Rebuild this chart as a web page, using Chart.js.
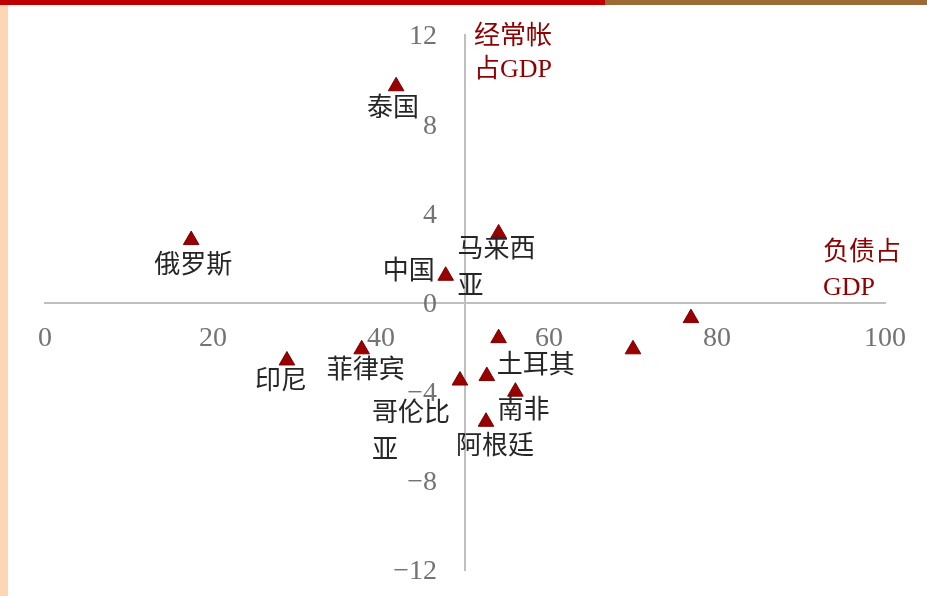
<!DOCTYPE html>
<html><head><meta charset="utf-8">
<script src="https://cdn.jsdelivr.net/npm/chart.js@4.4.1/dist/chart.umd.min.js"></script>
<style>
html,body{margin:0;padding:0;background:#fff;}
#wrap{position:relative;width:927px;height:596px;overflow:hidden;background:#fff;}
#topRed{position:absolute;left:0;top:0;width:605px;height:5px;background:#C00000;}
#topBrown{position:absolute;left:605px;top:0;width:322px;height:5px;background:#9E6A33;}
#leftStrip{position:absolute;left:0;top:5px;width:8px;height:591px;background:#FDD6B5;}
canvas{position:absolute;left:0;top:0;}
</style></head><body>
<div id="wrap">
<canvas id="c" width="927" height="596"></canvas>
<div id="topRed"></div><div id="topBrown"></div><div id="leftStrip"></div>
</div>
<script>
// ---- data ----
const countries = ['泰国','俄罗斯','马来西亚','中国','','','印尼','菲律宾','','哥伦比亚','土耳其','南非','阿根廷'];
const debtToGDP = [41.8, 17.4, 54.0, 47.7, 76.9, 70.0, 28.8, 37.7, 54.0, 49.4, 52.6, 56.0, 52.5];
const currentAccountToGDP = [9.7, 2.8, 3.1, 1.2, -0.7, -2.1, -2.6, -2.1, -1.6, -3.5, -3.3, -4.0, -5.35];
const xTicks = [0, 20, 40, 60, 80, 100];
const yTicks = [-12, -8, -4, 0, 4, 8, 12];
const yTitleLines = ['经常帐', '占GDP'];
const xTitleLines = ['负债占', 'GDP'];

// ---- label placement (style, not data) ----
const labelText = {'马来西亚': ['马来西', '亚'], '哥伦比亚': ['哥伦比', '亚']};
const labelPlace = [
  [-3, 20, 'center'], [2, 23, 'center'], [-41, 14, 'left'], [-11, -7, 'right'],
  null, null, [-6, 19, 'center'], [4, 19, 'center'], null,
  [-88, 31, 'left'], [10, -13, 'left'], [-18, 17, 'left'], [9, 22, 'center']
];
const textShift = 3;

const points = debtToGDP.map((x, i) => ({x: x, y: currentAccountToGDP[i]}));
const CJK = '"Liberation Serif", "Noto Sans CJK SC", serif';
const darkRed = '#8F0000';
const fmt = v => String(v).replace('-', '\u2212');

const labelPlugin = {
  id: 'labels',
  afterDatasetsDraw(chart) {
    const ctx = chart.ctx;
    const meta = chart.getDatasetMeta(0);
    ctx.save();
    ctx.font = '26px ' + CJK;
    ctx.fillStyle = '#262626';
    ctx.textBaseline = 'middle';
    countries.forEach((name, i) => {
      if (!name || !labelPlace[i]) return;
      const el = meta.data[i];
      const [dx, dy, align] = labelPlace[i];
      const lines = labelText[name] || [name];
      ctx.textAlign = align;
      lines.forEach((ln, k) => ctx.fillText(ln, el.x + dx, el.y + dy + textShift + k * 37));
    });
    // axis titles
    const xs = chart.scales.x, ys = chart.scales.y;
    ctx.fillStyle = darkRed;
    ctx.textAlign = 'left';
    yTitleLines.forEach((ln, k) => ctx.fillText(ln, xs.getPixelForValue(50) + 9, ys.getPixelForValue(12) - 1 + textShift + k * 33));
    xTitleLines.forEach((ln, k) => ctx.fillText(ln, xs.getPixelForValue(100) - 62, ys.getPixelForValue(0) - 52 + textShift + k * 35));
    ctx.restore();
  }
};

new Chart(document.getElementById('c'), {
  type: 'scatter',
  data: {
    datasets: [{
      data: points,
      pointStyle: 'triangle',
      pointRadius: 9,
      pointHoverRadius: 9,
      backgroundColor: '#990000',
      borderColor: '#7A0000',
      borderWidth: 1
    }]
  },
  options: {
    responsive: false,
    animation: false,
    devicePixelRatio: 1,
    layout: {padding: {left: 45, right: 42, top: 35, bottom: 26}},
    plugins: {legend: {display: false}, tooltip: {enabled: false}},
    scales: {
      x: {
        type: 'linear', min: 0, max: 100,
        position: {y: 0},
        afterBuildTicks: s => { s.ticks = xTicks.map(v => ({value: v})); },
        afterFit: s => { s.paddingTop = 0; s.paddingBottom = 0; },
        grid: {display: false, drawTicks: false},
        border: {display: true, color: '#BFBFBF', width: 2},
        ticks: {font: {family: 'Liberation Serif', size: 28}, color: '#737373', padding: 19, maxRotation: 0, autoSkip: false, callback: v => fmt(v)}
      },
      y: {
        type: 'linear', min: -12, max: 12,
        position: {x: 50},
        afterBuildTicks: s => { s.ticks = yTicks.map(v => ({value: v})); },
        afterFit: s => { s.paddingTop = 0; s.paddingBottom = 0; },
        grid: {display: false, drawTicks: false},
        border: {display: true, color: '#BFBFBF', width: 2},
        ticks: {font: {family: 'Liberation Serif', size: 28}, color: '#737373', padding: 0, labelOffset: 2, autoSkip: false, callback: v => fmt(v) + '    '}
      }
    }
  },
  plugins: [labelPlugin]
});
</script>
</body></html>
